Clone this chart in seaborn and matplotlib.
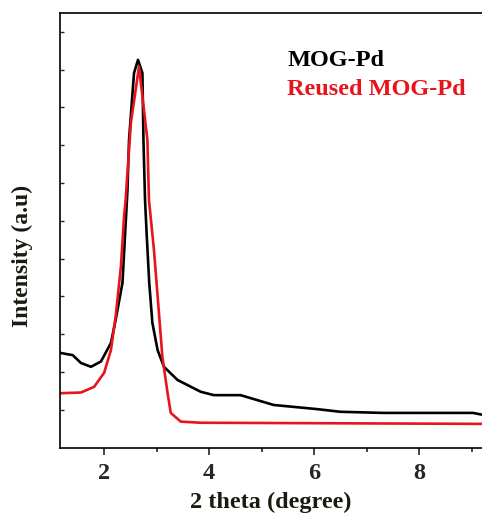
import numpy as np
import pandas as pd
import matplotlib
matplotlib.use("Agg")
import matplotlib.pyplot as plt
import seaborn as sns

# MOG-Pd (black)
mog_x = [1.16, 1.27, 1.40, 1.56, 1.75, 1.94, 2.13, 2.22, 2.35, 2.445, 2.475, 2.57, 2.646,
         2.73, 2.75, 2.78, 2.81, 2.86, 2.92, 3.02, 3.14, 3.40, 3.84, 4.09, 4.60, 5.23,
         6.06, 6.50, 7.32, 9.03, 9.25]
mog_y = [2.51, 2.48, 2.45, 2.24, 2.14, 2.28, 2.77, 3.38, 4.36, 6.81, 8.14, 9.91, 10.26,
         9.91, 8.14, 6.55, 5.68, 4.36, 3.30, 2.58, 2.14, 1.79, 1.48, 1.39, 1.39, 1.13,
         1.02, 0.95, 0.92, 0.92, 0.86]

# Reused MOG-Pd (red)
reu_x = [1.16, 1.56, 1.81, 2.00, 2.13, 2.22, 2.32, 2.38, 2.41, 2.51, 2.665, 2.825, 2.855,
         2.95, 3.05, 3.11, 3.21, 3.27, 3.46, 3.84, 9.25]
reu_y = [1.44, 1.46, 1.61, 1.98, 2.58, 3.47, 4.79, 6.11, 6.55, 8.59, 10.08, 8.14, 6.55,
         5.23, 3.47, 2.41, 1.44, 0.92, 0.69, 0.66, 0.63]

xticks = [2, 4, 6, 8]
series_labels = ["MOG-Pd", "Reused MOG-Pd"]

sns.set_style("ticks")
plt.rcParams['font.family'] = ['Liberation Serif', 'DejaVu Serif']

fig = plt.figure(figsize=(4.82, 5.15), dpi=100)
ax = fig.add_axes([0.1245, 0.1307, 0.8755, 0.8441])

red = "#e8141c"
df1 = pd.DataFrame({"x": mog_x, "y": mog_y})
df2 = pd.DataFrame({"x": reu_x, "y": reu_y})
sns.lineplot(data=df1, x="x", y="y", color="black", lw=1.9, ax=ax, sort=False)
sns.lineplot(data=df2, x="x", y="y", color=red, lw=1.9, ax=ax, sort=False)

ax.set_xlim(1.16, 9.2)
ax.set_ylim(0, 11.5)
ax.set_xticks(xticks)
ax.set_xticks([3, 5, 7, 9], minor=True)
ax.set_yticks(np.arange(1, 12, 1))
ax.set_yticklabels([])
ax.tick_params(axis='x', which='major', direction='out', length=5, width=1.2,
               labelsize=17.5, pad=6)
ax.tick_params(axis='x', which='minor', direction='out', length=3, width=1.2)
ax.tick_params(axis='y', which='major', direction='in', length=3, width=1.0)
for lab in ax.get_xticklabels():
    lab.set_fontweight('bold')

for s in ['left', 'bottom', 'top']:
    ax.spines[s].set_linewidth(1.2)
    ax.spines[s].set_color('black')
ax.spines['right'].set_visible(False)

ax.set_xlabel("2 theta (degree)", fontsize=17.5, fontweight='bold', color='#1c1a10', labelpad=6)
ax.set_ylabel("Intensity (a.u)", fontsize=17, fontweight='bold', color='#1c1a10')
ax.yaxis.set_label_coords(-0.064, 0.441)

ax.text(0.538, 0.89, series_labels[0], transform=ax.transAxes, fontsize=17.5,
        fontweight='bold', color='black', va='center', ha='left')
ax.text(0.538, 0.823, series_labels[1], transform=ax.transAxes, fontsize=17.5,
        fontweight='bold', color=red, va='center', ha='left')

fig.savefig("out.png", dpi=100)
